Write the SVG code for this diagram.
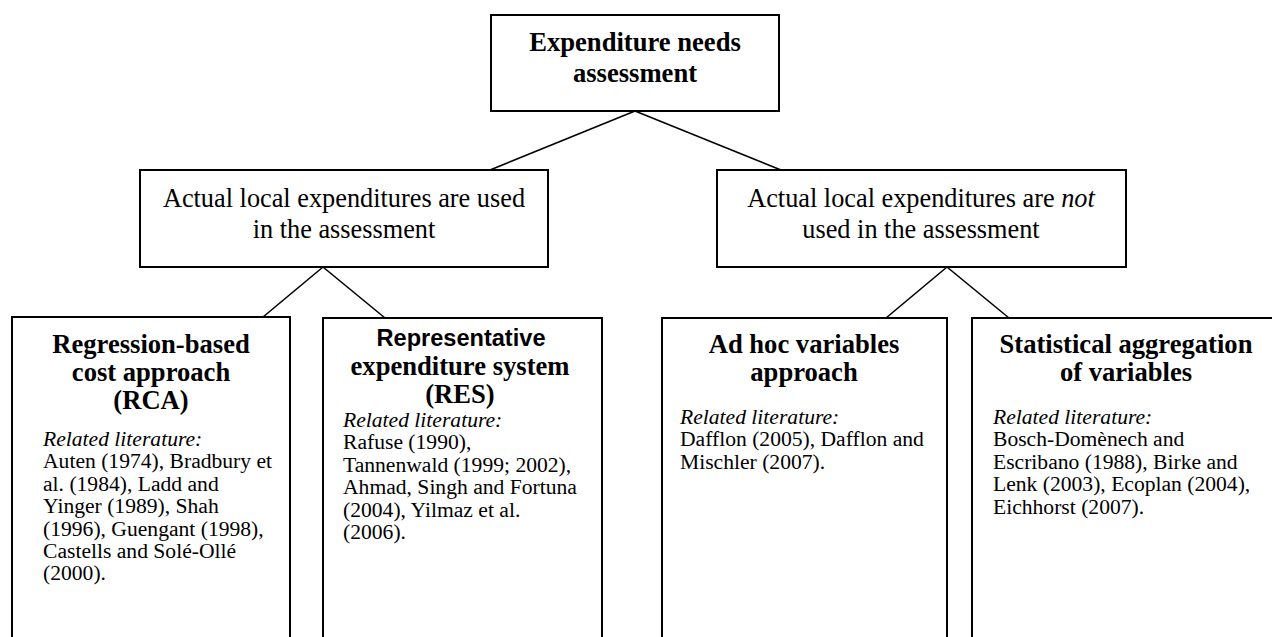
<svg xmlns="http://www.w3.org/2000/svg" width="1272" height="637" viewBox="0 0 1272 637">
<style>
.box{fill:#fff;stroke:#000;stroke-width:2}
.ln{stroke:#000;stroke-width:1.6;fill:none}
.h{font-family:"Liberation Serif","Times New Roman",serif;font-weight:bold;font-size:26.6px;text-anchor:middle;fill:#000}
.hs{font-family:"Liberation Sans",Arial,sans-serif;font-weight:bold;font-size:23px;text-anchor:middle;fill:#000}
.m{font-family:"Liberation Serif","Times New Roman",serif;font-size:26.3px;text-anchor:middle;fill:#000}
.l{font-family:"Liberation Serif","Times New Roman",serif;font-size:21.6px;fill:#000}
.i{font-style:italic}
</style>
<rect width="1272" height="637" fill="#fff"/>
<g id="connectors">
<line class="ln" x1="635" y1="111" x2="490" y2="170"/>
<line class="ln" x1="635" y1="111" x2="781" y2="170"/>
<line class="ln" x1="323" y1="267" x2="263" y2="317"/>
<line class="ln" x1="323" y1="267" x2="385" y2="318"/>
<line class="ln" x1="947" y1="267" x2="886" y2="318"/>
<line class="ln" x1="947" y1="267" x2="1009" y2="318"/>
</g>
<g id="root">
<rect class="box" x="491" y="15" width="288" height="96"/>
<text class="h" x="635" y="51">Expenditure needs</text>
<text class="h" x="635" y="82">assessment</text>
</g>
<g id="used">
<rect class="box" x="140" y="170" width="408" height="97"/>
<text class="m" x="344" y="207">Actual local expenditures are used</text>
<text class="m" x="344" y="238">in the assessment</text>
</g>
<g id="notused">
<rect class="box" x="717" y="170" width="409" height="97"/>
<text class="m" x="921" y="207">Actual local expenditures are <tspan class="i">not</tspan></text>
<text class="m" x="921" y="238">used in the assessment</text>
</g>
<g id="rca">
<rect class="box" x="12" y="317" width="278" height="340"/>
<text class="h" x="151" y="353">Regression-based</text>
<text class="h" x="151" y="381">cost approach</text>
<text class="h" x="151" y="409">(RCA)</text>
<text class="l"><tspan class="i" x="43" y="446">Related literature:</tspan><tspan x="43" y="468.4">Auten (1974), Bradbury et</tspan><tspan x="43" y="490.8">al. (1984), Ladd and</tspan><tspan x="43" y="513.2">Yinger (1989), Shah</tspan><tspan x="43" y="535.6">(1996), Guengant (1998),</tspan><tspan x="43" y="558">Castells and Solé-Ollé</tspan><tspan x="43" y="580.4">(2000).</tspan></text>
</g>
<g id="res">
<rect class="box" x="323" y="318" width="279" height="340"/>
<text class="hs" x="461" y="346" textLength="169" lengthAdjust="spacingAndGlyphs">Representative</text>
<text class="h" x="460" y="375">expenditure system</text>
<text class="h" x="460" y="403">(RES)</text>
<text class="l"><tspan class="i" x="343" y="427">Related literature:</tspan><tspan x="343" y="449.4">Rafuse (1990),</tspan><tspan x="343" y="471.8">Tannenwald (1999; 2002),</tspan><tspan x="343" y="494.2">Ahmad, Singh and Fortuna</tspan><tspan x="343" y="516.6">(2004), Yilmaz et al.</tspan><tspan x="343" y="539">(2006).</tspan></text>
</g>
<g id="adhoc">
<rect class="box" x="662" y="318" width="285" height="340"/>
<text class="h" x="804" y="353">Ad hoc variables</text>
<text class="h" x="804" y="381">approach</text>
<text class="l"><tspan class="i" x="680" y="424">Related literature:</tspan><tspan x="680" y="446.4">Dafflon (2005), Dafflon and</tspan><tspan x="680" y="468.8">Mischler (2007).</tspan></text>
</g>
<g id="stat">
<rect class="box" x="972" y="318" width="320" height="340"/>
<text class="h" x="1126" y="353">Statistical aggregation</text>
<text class="h" x="1126" y="381">of variables</text>
<text class="l"><tspan class="i" x="993" y="424">Related literature:</tspan><tspan x="993" y="446.4">Bosch-Domènech and</tspan><tspan x="993" y="468.8">Escribano (1988), Birke and</tspan><tspan x="993" y="491.2">Lenk (2003), Ecoplan (2004),</tspan><tspan x="993" y="513.6">Eichhorst (2007).</tspan></text>
</g>
</svg>
